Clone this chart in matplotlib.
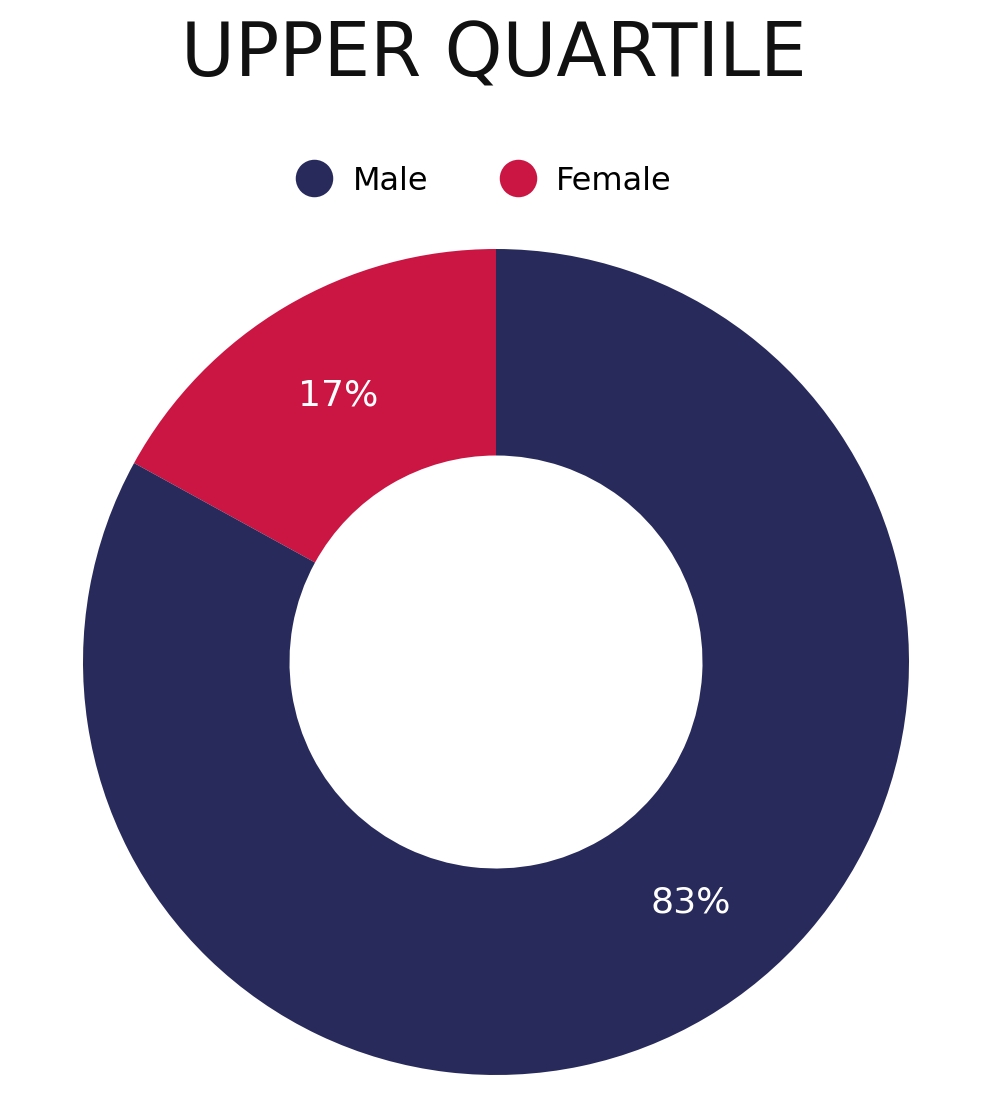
import matplotlib
matplotlib.use("Agg")
import numpy as np
import matplotlib.pyplot as plt
from matplotlib.lines import Line2D

# upper quartile pay split
labels = ["Female", "Male"]
shares = [17, 83]
colors = ["#cb1543", "#272a5b"]

fig = plt.figure(figsize=(9.96, 10.98), dpi=100)
W, H = 996, 1098
cx, cy, r = 496, 662, 413
ax = fig.add_axes([(cx - r) / W, (H - cy - r) / H, 2 * r / W, 2 * r / H])

wedges, texts, autotexts = ax.pie(
    shares, colors=colors, startangle=90, counterclock=True,
    radius=1, wedgeprops=dict(width=0.5, edgecolor="none"),
    autopct="%d%%", pctdistance=0.75,
    textprops=dict(color="white", fontsize=26))
# shift the male label a bit toward the right side of the ring
ang = np.deg2rad(-51)
autotexts[1].set_position((0.75 * np.cos(ang), 0.75 * np.sin(ang)))
ax.set_xlim(-1, 1)
ax.set_ylim(-1, 1)
ax.set_aspect("equal")
ax.axis("off")

fig.text(0.496, 1 - 56 / H, "UPPER QUARTILE", ha="center", va="center",
         fontsize=53, fontweight="normal", fontstretch="semi-condensed",
         color="#111111")

handles = [Line2D([], [], marker="o", linestyle="none", markersize=27,
                  markerfacecolor=c, markeredgecolor="none")
           for c in [colors[1], colors[0]]]
fig.legend(handles, ["Male", "Female"], loc="center", ncol=2,
           bbox_to_anchor=(0.479, 1 - 181 / H), frameon=False,
           handletextpad=0.2, columnspacing=1.8,
           prop=dict(size=23))

fig.savefig("out.png", dpi=100, facecolor="white")
